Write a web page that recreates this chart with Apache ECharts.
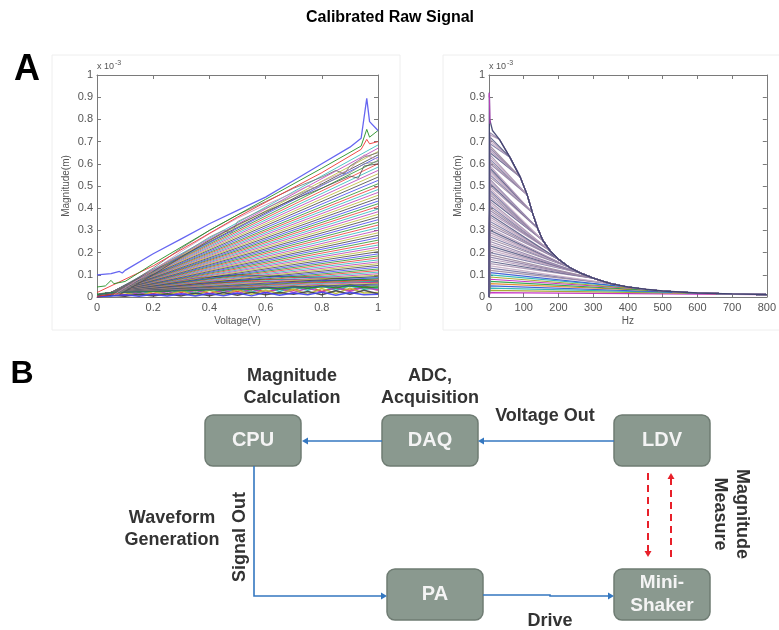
<!DOCTYPE html>
<html>
<head>
<meta charset="utf-8">
<script src="https://cdn.jsdelivr.net/npm/echarts@6/dist/echarts.min.js"></script>
<style>
html, body { margin: 0; background: #fff; }
#main { width: 779px; height: 630px; }
</style>
</head>
<body>
<div id="main"></div>
<script>
// ---- left panel: magnitude vs voltage (units of 1e-3 m) ----
const leftTopBlue = [[0,0.1],[0.05,0.105],[0.08,0.115],[0.09,0.108],[0.1,0.12],[0.2,0.195],[0.3,0.262],[0.4,0.33],[0.5,0.39],[0.6,0.45],[0.7,0.525],[0.8,0.6],[0.9,0.675],[0.94,0.715],[0.96,0.895],[0.97,0.79],[1,0.75]];
const leftTopGreen = [[0,0.045],[0.03,0.05],[0.05,0.075],[0.06,0.06],[0.1,0.07],[0.2,0.15],[0.4,0.3],[0.6,0.44],[0.8,0.58],[0.94,0.68],[0.96,0.755],[0.97,0.72],[1,0.75]];
const leftTopRed = [[0,0.02],[0.2,0.14],[0.5,0.36],[0.8,0.56],[0.94,0.665],[0.96,0.71],[0.97,0.69],[1,0.7]];
const leftFanStart = [[0,0.01],[0.05,0.02]];
const leftFanEnds = [0.685,0.67,0.655,0.64,0.63,0.615,0.6,0.585,0.57,0.555,0.54,0.525,0.51,0.497,0.484,0.471,0.458,0.445,0.432,0.42,0.408,0.396,0.384,0.372,0.36,0.348,0.336,0.324,0.312,0.3,0.289,0.278,0.267,0.256,0.245,0.234,0.224,0.214,0.204,0.194,0.185,0.176,0.167,0.158,0.15,0.142,0.134,0.126,0.119,0.112,0.105,0.099,0.093,0.087,0.082,0.077,0.072,0.067,0.062,0.058,0.054,0.05];
const leftBands = [
  [[0.05,0.01],[0.2,0.13],[0.3,0.22],[0.4,0.3],[0.5,0.37],[0.6,0.43],[0.7,0.49],[0.8,0.54],[0.85,0.57],[0.88,0.555],[0.9,0.59],[0.95,0.63],[1,0.65]],
  [[0.06,0.01],[0.2,0.12],[0.3,0.205],[0.4,0.285],[0.5,0.355],[0.6,0.415],[0.7,0.47],[0.75,0.5],[0.78,0.49],[0.8,0.52],[0.9,0.575],[0.95,0.64],[1,0.62]],
  [[0.07,0.01],[0.2,0.11],[0.3,0.19],[0.4,0.27],[0.45,0.3],[0.48,0.29],[0.5,0.34],[0.6,0.4],[0.7,0.455],[0.8,0.505],[0.9,0.56],[0.95,0.6],[1,0.61]],
  [[0.08,0.01],[0.2,0.1],[0.3,0.18],[0.4,0.255],[0.5,0.325],[0.6,0.385],[0.7,0.44],[0.8,0.49],[0.9,0.545],[0.93,0.535],[0.95,0.59],[1,0.6]]
];
const leftHumps = [
  [[0,0.005],[0.2,0.05],[0.35,0.085],[0.5,0.1],[0.7,0.09],[1,0.075]],
  [[0,0.005],[0.25,0.06],[0.45,0.09],[0.65,0.095],[1,0.085]],
  [[0,0.004],[0.2,0.04],[0.4,0.07],[0.6,0.08],[0.8,0.075],[1,0.07]],
  [[0,0.003],[0.15,0.03],[0.35,0.06],[0.55,0.07],[1,0.065]]
];
const messX = [0,0.05,0.1,0.15,0.2,0.25,0.3,0.35,0.4,0.45,0.5,0.55,0.6,0.65,0.7,0.75,0.8,0.85,0.9,0.95,1];
const leftMess = [
  [0.005,0.02,0.01,0.03,0.015,0.035,0.02,0.04,0.015,0.035,0.025,0.045,0.02,0.04,0.03,0.05,0.025,0.045,0.03,0.05,0.035],
  [0.01,0.005,0.025,0.01,0.03,0.012,0.035,0.015,0.04,0.02,0.04,0.02,0.045,0.025,0.045,0.03,0.05,0.03,0.05,0.035,0.04],
  [0,0.015,0.005,0.02,0.008,0.025,0.01,0.03,0.012,0.03,0.015,0.035,0.018,0.038,0.02,0.04,0.022,0.042,0.025,0.045,0.03],
  [0.005,0.01,0.02,0.005,0.025,0.01,0.028,0.008,0.03,0.01,0.032,0.012,0.03,0.015,0.035,0.012,0.038,0.015,0.04,0.018,0.02],
  [0,0.008,0.003,0.012,0.004,0.015,0.005,0.018,0.006,0.02,0.008,0.022,0.01,0.02,0.012,0.025,0.01,0.028,0.012,0.03,0.015],
  [0.002,0.004,0.01,0.003,0.012,0.004,0.015,0.005,0.016,0.006,0.018,0.005,0.02,0.008,0.018,0.01,0.022,0.008,0.02,0.01,0.012],
  [0.012,0.02,0.03,0.022,0.036,0.025,0.04,0.028,0.042,0.03,0.046,0.032,0.048,0.035,0.05,0.038,0.052,0.04,0.055,0.042,0.045]
];

// ---- right panel: magnitude vs frequency ----
const envHz = [2,10,30,60,90,110,125,140,155,175,200,230,260,300,350,400,450,500,600,700,800];
const envVal = [0.8,0.75,0.71,0.63,0.54,0.46,0.38,0.31,0.255,0.21,0.17,0.135,0.11,0.085,0.06,0.045,0.035,0.027,0.018,0.014,0.011];
const rightSpike = [[0,0],[1,0.92],[2,0.8]];
const rightLevels = [0.74,0.73,0.72,0.71,0.7,0.69,0.68,0.67,0.66,0.65,0.64,0.63,0.62,0.61,0.6,0.59,0.58,0.57,0.56,0.55,0.54,0.53,0.52,0.51,0.5,0.49,0.48,0.47,0.46,0.45,0.44,0.43,0.42,0.41,0.4,0.39,0.38,0.37,0.36,0.35,0.34,0.33,0.32,0.31,0.3,0.29,0.28,0.27,0.26,0.25,0.24,0.23,0.22,0.21,0.2,0.19,0.18,0.17,0.16,0.15,0.14,0.13,0.12,0.11,0.1,0.09,0.08,0.07,0.06,0.05,0.04,0.03,0.02];
const rightMerge = [2,2,3,3,3,3,4,4,4,4,5,5,5,5,5,6,6,6,6,6,6,7,7,7,7,8,8,8,8,8,8,9,9,9,9,9,9,10,10,10,10,10,10,11,11,11,11,11,11,12,12,12,12,12,12,13,13,13,13,13,14,14,14,15,15,16,16,17,17,18,18,19,20];

const leftColors = ['#4040f0','#259025','#ee3535','#25b8b8','#b838b8','#b8b830','#404040'];
const rightColors = ['#8f7fa6','#b49ab8','#5a5d86','#a893b0','#c8adc4','#7d7aa4','#9e8aa0'];
const brightColors = ['#c020c0','#20a040','#e08020','#3050d0','#20b0b0','#a0a020'];

const FONT = '"Liberation Sans", Arial, sans-serif';

function line(data, color, ax, width, opacity) {
  return {
    type: 'line', data: data, xAxisIndex: ax, yAxisIndex: ax,
    symbol: 'none', silent: true, animation: false,
    lineStyle: { color: color, width: width || 1, opacity: opacity == null ? 0.9 : opacity }
  };
}

const series = [];
leftMess.forEach((ys, i) => series.push(line(ys.map((y, j) => [messX[j], y]), leftColors[(i + 2) % 7], 0, 1.5, 0.9)));
leftHumps.forEach((d, i) => series.push(line(d, i === 0 ? '#202020' : leftColors[(i * 3) % 7], 0)));
leftFanEnds.forEach((e, i) => series.push(line(leftFanStart.concat([[1, e]]), leftColors[(i + 3) % 7], 0, 1, 0.8)));
leftBands.forEach((d, i) => series.push(line(d, ['#6a6a6a', '#c890b8', '#8a8a8a', '#505050'][i], 0, 1, 0.8)));
series.push(line(leftTopRed, leftColors[2], 0));
series.push(line(leftTopGreen, leftColors[1], 0));
series.push(line(leftTopBlue, '#5555f0', 0, 1.3));

const env = envHz.map((h, j) => [h, envVal[j]]);
for (let i = rightLevels.length - 1; i >= 0; i--) {
  const L = rightLevels[i];
  const c = L < 0.12 ? brightColors[i % brightColors.length] : rightColors[i % rightColors.length];
  series.push(line([[0, 0], [3, L]].concat(env.slice(rightMerge[i])), c, 1, 1.2, 0.9));
}
series.push(line(rightSpike.concat(env.slice(1)), '#3a3d6a', 1, 1.3, 0.9));
series.push(line([[0, 0.9], [1, 0.92], [3, 0.78]], '#c040c0', 1, 1.2, 0.9));

function axesFor(xmax, xint, xname, gi) {
  const axCol = '#7a7a7a';
  const labelStyle = { color: '#555', fontSize: 11, fontFamily: FONT };
  const common = () => ({
    gridIndex: gi,
    axisLine: { show: true, onZero: false, lineStyle: { color: axCol, width: 1 } },
    axisTick: { show: true, inside: true, length: 4, lineStyle: { color: axCol } },
    splitLine: { show: false }
  });
  const x = [
    Object.assign({ type: 'value', min: 0, max: xmax, interval: xint, position: 'bottom',
      name: xname, nameLocation: 'middle', nameGap: 19,
      nameTextStyle: { color: '#555', fontSize: 10, fontFamily: FONT },
      axisLabel: Object.assign({ margin: 5 }, labelStyle) }, common()),
    Object.assign({ type: 'value', min: 0, max: xmax, interval: xint, position: 'top',
      axisLabel: { show: false } }, common())
  ];
  const y = [
    Object.assign({ type: 'value', min: 0, max: 1, interval: 0.1, position: 'left',
      name: 'Magnitude(m)', nameLocation: 'middle', nameGap: 26,
      nameTextStyle: { color: '#555', fontSize: 10, fontFamily: FONT },
      axisLabel: Object.assign({ margin: 4 }, labelStyle) }, common()),
    Object.assign({ type: 'value', min: 0, max: 1, interval: 0.1, position: 'right',
      axisLabel: { show: false } }, common())
  ];
  return { x: x, y: y };
}

const aL = axesFor(1, 0.2, 'Voltage(V)', 0);
const aR = axesFor(800, 100, 'Hz', 1);
// axis order: 0 left-bottom, 1 left-top, 2 right-bottom, 3 right-top
const xAxes = [aL.x[0], aL.x[1], aR.x[0], aR.x[1]];
const yAxes = [aL.y[0], aL.y[1], aR.y[0], aR.y[1]];

// ---- diagram (panel B) ----
const boxFill = '#8a998f', boxStroke = '#6f7c73', arrowBlue = '#3477c0', dashRed = '#e8202a';
const boxes = [
  { x: 205, y: 415, label: 'CPU' },
  { x: 382, y: 415, label: 'DAQ' },
  { x: 614, y: 415, label: 'LDV' },
  { x: 387, y: 569, label: 'PA' },
  { x: 614, y: 569, label: 'Mini-\nShaker' }
];
const BW = 96, BH = 51;

function txt(x, y, text, size, color, rot) {
  return {
    type: 'text', x: x, y: y, rotation: rot || 0, z: 20,
    style: { text: text, fill: color, font: 'bold ' + size + 'px ' + FONT,
      textAlign: 'center', textVerticalAlign: 'middle', lineHeight: Math.round(size * 1.2) }
  };
}
function head(x, y, dir, color) {
  const s = 6, w = 3.5;
  let pts;
  if (dir === 'left') pts = [[x, y], [x + s, y - w], [x + s, y + w]];
  if (dir === 'right') pts = [[x, y], [x - s, y - w], [x - s, y + w]];
  if (dir === 'down') pts = [[x, y], [x - w, y - s], [x + w, y - s]];
  if (dir === 'up') pts = [[x, y], [x - w, y + s], [x + w, y + s]];
  return { type: 'polygon', z: 15, shape: { points: pts }, style: { fill: color } };
}
function pline(points, color, dash) {
  return { type: 'polyline', z: 14, shape: { points: points },
    style: { stroke: color, lineWidth: dash ? 2 : 1.6, fill: null, lineDash: dash || null } };
}

const graphics = [
  { type: 'rect', shape: { x: 52, y: 55, width: 348, height: 275 }, style: { fill: null, stroke: '#eeeeee', lineWidth: 1 } },
  { type: 'rect', shape: { x: 443, y: 55, width: 340, height: 275 }, style: { fill: null, stroke: '#eeeeee', lineWidth: 1 } },
  txt(390, 18, 'Calibrated Raw Signal', 16, '#000'),
  txt(27, 70, 'A', 36, '#000'),
  txt(22, 374, 'B', 32, '#000'),
  { type: 'text', x: 97, y: 67, style: { text: 'x 10', fill: '#555', font: '9px ' + FONT, textVerticalAlign: 'middle' } },
  { type: 'text', x: 115, y: 63, style: { text: '-3', fill: '#555', font: '7px ' + FONT, textVerticalAlign: 'middle' } },
  { type: 'text', x: 489, y: 67, style: { text: 'x 10', fill: '#555', font: '9px ' + FONT, textVerticalAlign: 'middle' } },
  { type: 'text', x: 507, y: 63, style: { text: '-3', fill: '#555', font: '7px ' + FONT, textVerticalAlign: 'middle' } }
];
boxes.forEach(b => {
  graphics.push({ type: 'rect', z: 10, shape: { x: b.x, y: b.y, width: BW, height: BH, r: 8 },
    style: { fill: boxFill, stroke: boxStroke, lineWidth: 1.5 } });
  graphics.push(txt(b.x + BW / 2, b.y + BH / 2, b.label, b.label.length > 4 ? 19 : 20, '#f4f4f4'));
});
graphics.push(
  pline([[614, 441], [484, 441]], arrowBlue), head(478, 441, 'left', arrowBlue),
  pline([[382, 441], [308, 441]], arrowBlue), head(302, 441, 'left', arrowBlue),
  pline([[254, 466], [254, 596], [381, 596]], arrowBlue), head(387, 596, 'right', arrowBlue),
  pline([[483, 595], [550, 595], [550, 596], [608, 596]], arrowBlue), head(614, 596, 'right', arrowBlue),
  pline([[648, 473], [648, 551]], dashRed, [7, 5]), head(648, 557, 'down', dashRed),
  pline([[671, 557], [671, 479]], dashRed, [7, 5]), head(671, 473, 'up', dashRed),
  txt(292, 387, 'Magnitude\nCalculation', 18, '#333'),
  txt(430, 387, 'ADC,\nAcquisition', 18, '#333'),
  txt(545, 416, 'Voltage Out', 18, '#333'),
  txt(172, 529, 'Waveform\nGeneration', 18, '#333'),
  txt(240, 537, 'Signal Out', 18, '#333', Math.PI / 2),
  txt(550, 621, 'Drive', 18, '#333'),
  txt(731, 514, 'Magnitude\nMeasure', 18, '#333', -Math.PI / 2)
);

const chart = echarts.init(document.getElementById('main'), null, { renderer: 'canvas' });
chart.setOption({
  animation: false,
  backgroundColor: '#fff',
  grid: [
    { left: 97, top: 75, width: 281, height: 222 },
    { left: 489, top: 75, width: 282, height: 222 }
  ],
  xAxis: xAxes,
  yAxis: yAxes,
  series: series.map(s => Object.assign(s, {
    xAxisIndex: s.xAxisIndex === 0 ? 0 : 2,
    yAxisIndex: s.yAxisIndex === 0 ? 0 : 2
  })),
  graphic: graphics
});
</script>
</body>
</html>
